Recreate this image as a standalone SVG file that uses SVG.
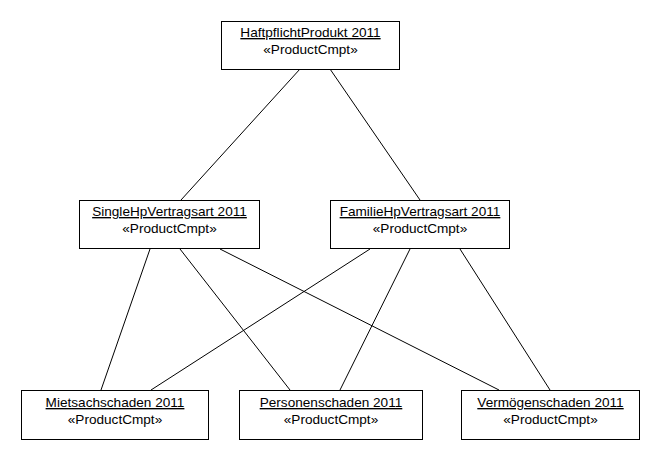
<svg xmlns="http://www.w3.org/2000/svg" width="660" height="460" viewBox="0 0 660 460">
<style>
.box{fill:#fff;stroke:#000;stroke-width:1}
.t{font-family:"Liberation Sans",Arial,sans-serif;font-size:13.6px;fill:#000;text-anchor:middle}
.n{text-decoration:underline}
.c line{stroke:#000;stroke-width:1}
</style>
<rect width="660" height="460" fill="#fff"/>
<g class="c" id="connectors">
<line x1="300" y1="69" x2="181" y2="200"/>
<line x1="330" y1="69" x2="420" y2="200"/>
<line x1="150" y1="249" x2="101" y2="390"/>
<line x1="370" y1="249" x2="151" y2="390"/>
<line x1="180" y1="249" x2="290" y2="390"/>
<line x1="410" y1="249" x2="340" y2="390"/>
<line x1="220" y1="249" x2="499" y2="390"/>
<line x1="460" y1="249" x2="550" y2="390"/>
</g>
<g id="haftpflicht">
<rect class="box" x="221.5" y="21.5" width="178" height="48"/>
<text class="t n" x="310.5" y="37">HaftpflichtProdukt 2011</text>
<text class="t" x="310.5" y="54">«ProductCmpt»</text>
</g>
<g id="single">
<rect class="box" x="79.5" y="200.5" width="180" height="48"/>
<text class="t n" x="169.5" y="216">SingleHpVertragsart 2011</text>
<text class="t" x="169.5" y="233">«ProductCmpt»</text>
</g>
<g id="familie">
<rect class="box" x="330.5" y="200.5" width="179" height="48"/>
<text class="t n" x="420" y="216">FamilieHpVertragsart 2011</text>
<text class="t" x="420" y="233">«ProductCmpt»</text>
</g>
<g id="miet">
<rect class="box" x="21.5" y="390.5" width="187" height="49"/>
<text class="t n" x="115" y="407">Mietsachschaden 2011</text>
<text class="t" x="115" y="424">«ProductCmpt»</text>
</g>
<g id="personen">
<rect class="box" x="239.5" y="390.5" width="183" height="49"/>
<text class="t n" x="331" y="407">Personenschaden 2011</text>
<text class="t" x="331" y="424">«ProductCmpt»</text>
</g>
<g id="vermoegen">
<rect class="box" x="461.5" y="390.5" width="178" height="49"/>
<text class="t n" x="550.5" y="407">Vermögenschaden 2011</text>
<text class="t" x="550.5" y="424">«ProductCmpt»</text>
</g>
</svg>
